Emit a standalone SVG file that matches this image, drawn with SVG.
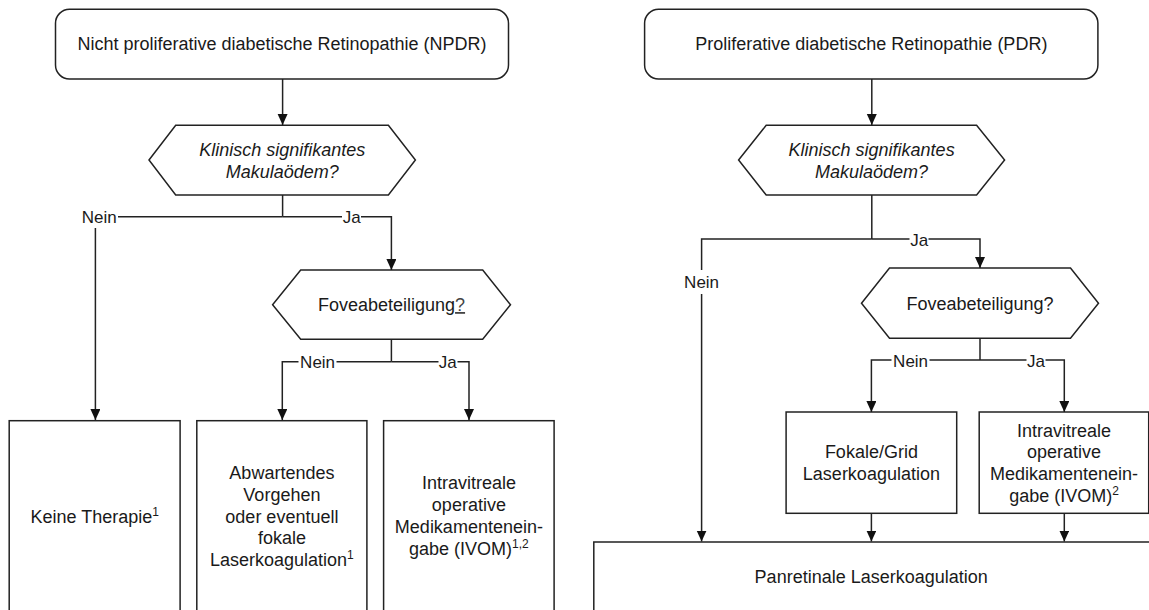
<svg xmlns="http://www.w3.org/2000/svg" width="1149" height="610" viewBox="0 0 1149 610">
<style>
.box{fill:#fff;stroke:#222;stroke-width:1.5}
.ln{fill:none;stroke:#222;stroke-width:1.5}
.t{font-family:"Liberation Sans",Arial,sans-serif;font-size:18px;fill:#1a1a1a;text-anchor:middle}
.i{font-style:italic}
.lb{font-family:"Liberation Sans",Arial,sans-serif;font-size:17px;fill:#1a1a1a;text-anchor:middle}
.bg{fill:#fff}
.sup{font-size:12px}
</style>
<defs>
<marker id="ah" markerWidth="12" markerHeight="12" refX="11" refY="5" orient="auto" markerUnits="userSpaceOnUse">
<path d="M0,0 L11,5 L0,10 z" fill="#111"/>
</marker>
</defs>
<rect width="1149" height="610" fill="#fff"/>

<g id="npdr">
<rect class="box" x="55.5" y="9.3" width="453" height="69.7" rx="14" ry="14"/>
<text class="t" x="282" y="50">Nicht proliferative diabetische Retinopathie (NPDR)</text>
</g>
<g id="q1-left">
<polygon class="box" points="149,160 175.7,125.3 388.4,125.3 415.4,160 388.4,195 175.7,195"/>
<text class="t i" x="282.3" y="155.5">Klinisch signifikantes</text>
<text class="t i" x="282.3" y="177.5">Makulaödem?</text>
</g>
<g id="q2-left">
<polygon class="box" points="272.6,304.7 300.7,270 482.7,270 510.5,304.7 482.7,339.3 300.7,339.3"/>
<text class="t" x="391.5" y="311">Foveabeteiligung<tspan fill="#444" text-decoration="underline">?</tspan></text>
</g>
<g id="keine-therapie">
<rect class="box" x="9.2" y="420.7" width="170.9" height="200"/>
<text class="t" x="94.7" y="522.5">Keine Therapie<tspan class="sup" baseline-shift="super">1</tspan></text>
</g>
<g id="abwartend">
<rect class="box" x="196.8" y="420.7" width="170.1" height="200"/>
<text class="t" x="281.9" y="479">Abwartendes</text>
<text class="t" x="281.9" y="500.75">Vorgehen</text>
<text class="t" x="281.9" y="522.5">oder eventuell</text>
<text class="t" x="281.9" y="544.25">fokale</text>
<text class="t" x="281.9" y="566">Laserkoagulation<tspan class="sup" baseline-shift="super">1</tspan></text>
</g>
<g id="ivom-left">
<rect class="box" x="383.6" y="420.7" width="170.5" height="200"/>
<text class="t" x="468.9" y="489.2">Intravitreale</text>
<text class="t" x="468.9" y="511">operative</text>
<text class="t" x="468.9" y="532.8">Medikamentenein-</text>
<text class="t" x="468.9" y="554.6">gabe (IVOM)<tspan class="sup" baseline-shift="super">1,2</tspan></text>
</g>

<g id="pdr">
<rect class="box" x="644.6" y="9.3" width="453.3" height="69.7" rx="14" ry="14"/>
<text class="t" x="871.3" y="50">Proliferative diabetische Retinopathie (PDR)</text>
</g>
<g id="q1-right">
<polygon class="box" points="738.6,160 766.2,125.3 976.6,125.3 1004.6,160 976.6,195 766.2,195"/>
<text class="t i" x="871.6" y="155.5">Klinisch signifikantes</text>
<text class="t i" x="871.6" y="177.5">Makulaödem?</text>
</g>
<g id="q2-right">
<polygon class="box" points="861.5,303.2 889.5,268 1070.5,268 1098.5,303.2 1070.5,338.3 889.5,338.3"/>
<text class="t" x="980" y="310">Foveabeteiligung?</text>
</g>
<g id="fokal-grid">
<rect class="box" x="786.1" y="412" width="170.6" height="101.3"/>
<text class="t" x="871.4" y="458">Fokale/Grid</text>
<text class="t" x="871.4" y="480">Laserkoagulation</text>
</g>
<g id="ivom-right">
<rect class="box" x="979.2" y="412" width="169.5" height="101.3"/>
<text class="t" x="1064" y="436.5">Intravitreale</text>
<text class="t" x="1064" y="458.2">operative</text>
<text class="t" x="1064" y="479.9">Medikamentenein-</text>
<text class="t" x="1064" y="501.6">gabe (IVOM)<tspan class="sup" baseline-shift="super">2</tspan></text>
</g>
<g id="panretinal">
<rect class="box" x="593.8" y="542" width="570" height="100"/>
<text class="t" x="871.2" y="583">Panretinale Laserkoagulation</text>
</g>

<g id="connectors">
<path class="ln" d="M282.6,79 V125" marker-end="url(#ah)"/>
<path class="ln" d="M282.6,195 V216.7"/>
<path class="ln" d="M282.6,216.7 H95.4 V420" marker-end="url(#ah)"/>
<path class="ln" d="M282.6,216.7 H391.4 V270" marker-end="url(#ah)"/>
<path class="ln" d="M391.4,339.3 V361.7"/>
<path class="ln" d="M391.4,361.7 H282.3 V420" marker-end="url(#ah)"/>
<path class="ln" d="M391.4,361.7 H469 V420" marker-end="url(#ah)"/>

<path class="ln" d="M871.8,79 V125" marker-end="url(#ah)"/>
<path class="ln" d="M871.8,195 V239"/>
<path class="ln" d="M871.8,239 H701.6 V541.5" marker-end="url(#ah)"/>
<path class="ln" d="M871.8,239 H980 V268" marker-end="url(#ah)"/>
<path class="ln" d="M980,338.3 V360"/>
<path class="ln" d="M980,360 H871.4 V412" marker-end="url(#ah)"/>
<path class="ln" d="M980,360 H1064.3 V412" marker-end="url(#ah)"/>
<path class="ln" d="M871.4,513.3 V541.5" marker-end="url(#ah)"/>
<path class="ln" d="M1064.3,513.3 V541.5" marker-end="url(#ah)"/>

<rect class="bg" x="80" y="205" width="38" height="23"/>
<text class="lb" x="99.2" y="222.5">Nein</text>
<rect class="bg" x="342" y="208" width="19" height="18"/>
<text class="lb" x="351.8" y="223">Ja</text>
<rect class="bg" x="298.5" y="352" width="38" height="19"/>
<text class="lb" x="317.6" y="368">Nein</text>
<rect class="bg" x="438.5" y="352" width="19" height="19"/>
<text class="lb" x="447.8" y="368">Ja</text>

<rect class="bg" x="909.5" y="230" width="19" height="18"/>
<text class="lb" x="919.3" y="245.5">Ja</text>
<rect class="bg" x="683" y="270" width="37" height="24"/>
<text class="lb" x="701.6" y="288">Nein</text>
<rect class="bg" x="891.5" y="351" width="38" height="18"/>
<text class="lb" x="910.6" y="366.5">Nein</text>
<rect class="bg" x="1026.5" y="351" width="19" height="18"/>
<text class="lb" x="1036" y="366.5">Ja</text>
</g>
</svg>
